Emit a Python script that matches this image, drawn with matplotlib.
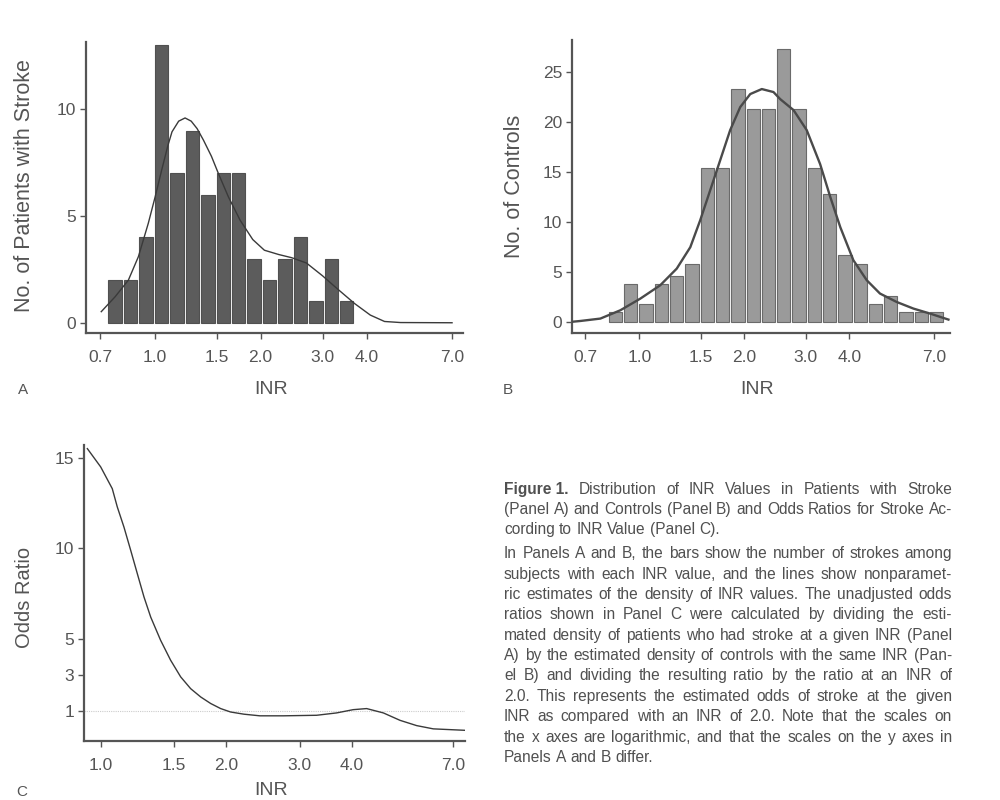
import numpy as np
import matplotlib
matplotlib.use("Agg")
import matplotlib.pyplot as plt
from matplotlib.ticker import NullLocator, FixedLocator, FixedFormatter

plt.rcParams['font.family'] = ['Liberation Sans', 'DejaVu Sans']

# bin edges on the INR axis (equal widths on the log scale)
bin_edges = [0.734, 0.812, 0.899, 0.994, 1.100, 1.217, 1.346, 1.489, 1.647,
             1.822, 2.016, 2.230, 2.467, 2.729, 3.019, 3.340, 3.695, 4.088,
             4.522, 5.003, 5.534, 6.123, 6.773, 7.493]

# Panel A: patients with stroke (bins 0..15)
stroke_counts = [2, 2, 4, 13, 7, 9, 6, 7, 7, 3, 2, 3, 4, 1, 3, 1]
stroke_curve_x = [0.705, 0.772, 0.842, 0.899, 0.959, 1.003, 1.047, 1.09, 1.12,
                  1.17, 1.22, 1.27, 1.32, 1.376, 1.45, 1.517, 1.62, 1.75, 1.90,
                  2.05, 2.25, 2.45, 2.70, 3.00, 3.30, 3.70, 4.10, 4.50, 5.00,
                  7.00]
stroke_curve_y = [0.52, 1.22, 2.0, 3.1, 4.66, 5.9, 7.16, 8.3, 8.95,
                  9.45, 9.6, 9.45, 9.1, 8.56, 7.8, 7.0, 5.9, 4.8, 3.9,
                  3.4, 3.2, 3.05, 2.8, 2.2, 1.6, 0.9, 0.36, 0.06, 0.01,
                  0.0]

# Panel B: controls (bins 1..22)
control_counts = [1, 3.8, 1.8, 3.8, 4.6, 5.8, 15.4, 15.4, 23.3, 21.3, 21.3,
                  27.3, 21.3, 15.4, 12.8, 6.7, 5.8, 1.8, 2.6, 1, 1, 1]
control_curve_x = [0.641, 0.677, 0.773, 0.882, 1.006, 1.148, 1.28, 1.40, 1.495,
                   1.597, 1.706, 1.822, 1.947, 2.08, 2.245, 2.425, 2.534, 2.768,
                   3.02, 3.30, 3.53, 3.77, 4.11, 4.49, 4.90, 5.47, 6.11, 6.82,
                   7.70]
control_curve_y = [0.05, 0.13, 0.37, 1.2, 2.36, 3.7, 5.36, 7.5, 10.2,
                   13.2, 16.2, 19.2, 21.5, 22.8, 23.3, 23.0, 22.3, 21.2,
                   19.2, 15.8, 12.5, 9.5, 6.2, 4.2, 2.87, 2.03, 1.37, 0.87,
                   0.27]

# Panel C: odds ratio
odds_x = [0.929, 1.00, 1.066, 1.096, 1.137, 1.180, 1.224, 1.27, 1.318, 1.392,
          1.471, 1.555, 1.643, 1.737, 1.835, 1.939, 2.049, 2.205, 2.408, 2.739,
          3.293, 3.677, 4.03, 4.34, 4.76, 5.22, 5.72, 6.27, 7.47]
odds_y = [15.5, 14.49, 13.29, 12.28, 11.17, 9.89, 8.6, 7.31, 6.2, 4.92,
          3.82, 2.9, 2.25, 1.79, 1.43, 1.15, 0.96, 0.84, 0.75, 0.75,
          0.78, 0.91, 1.09, 1.15, 0.91, 0.5, 0.21, 0.03, -0.05]

x_ticks_ab = [0.7, 1.0, 1.5, 2.0, 3.0, 4.0, 7.0]
x_ticks_c = [1.0, 1.5, 2.0, 3.0, 4.0, 7.0]

caption_p1 = [
    "Distribution of INR Values in Patients with Stroke",
    "(Panel A) and Controls (Panel B) and Odds Ratios for Stroke Ac-",
    "cording to INR Value (Panel C).",
]
caption_p2 = [
    "In Panels A and B, the bars show the number of strokes among",
    "subjects with each INR value, and the lines show nonparamet-",
    "ric estimates of the density of INR values. The unadjusted odds",
    "ratios shown in Panel C were calculated by dividing the esti-",
    "mated density of patients who had stroke at a given INR (Panel",
    "A) by the estimated density of controls with the same INR (Pan-",
    "el B) and dividing the resulting ratio by the ratio at an INR of",
    "2.0. This represents the estimated odds of stroke at the given",
    "INR as compared with an INR of 2.0. Note that the scales on",
    "the x axes are logarithmic, and that the scales on the y axes in",
    "Panels A and B differ.",
]

W, H = 1000, 800

fig = plt.figure(figsize=(10, 8), dpi=100)


def px_axes(left, top, right, bottom):
    return fig.add_axes([left / W, 1 - bottom / H, (right - left) / W, (bottom - top) / H])


def style(ax, xticks, yticks):
    ax.set_xscale("log")
    for s in ("top", "right"):
        ax.spines[s].set_visible(False)
    for s in ("left", "bottom"):
        ax.spines[s].set_color("#555555")
        ax.spines[s].set_linewidth(1.6)
    ax.xaxis.set_minor_locator(NullLocator())
    ax.xaxis.set_major_locator(FixedLocator(xticks))
    ax.xaxis.set_major_formatter(FixedFormatter(["%.1f" % t for t in xticks]))
    ax.set_yticks(yticks)
    ax.tick_params(direction="out", length=4, width=1, color="#555555",
                   labelcolor="#555555", labelsize=12.5, pad=3)
    ax.tick_params(axis="x", pad=8)


def draw_bars(ax, first_bin, counts, face, edge):
    lo = np.array(bin_edges[first_bin:first_bin + len(counts)])
    hi = np.array(bin_edges[first_bin + 1:first_bin + len(counts) + 1])
    shrink = np.sqrt(hi / lo) ** 0.13
    lefts = lo * shrink
    rights = hi / shrink
    ax.bar(lefts, counts, width=rights - lefts, align="edge",
           color=face, edgecolor=edge, linewidth=0.8, zorder=2)


# Panel A
axA = px_axes(86, 42, 463, 333)
draw_bars(axA, 0, stroke_counts, "#5c5c5c", "#505050")
axA.plot(stroke_curve_x, stroke_curve_y, color="#3a3a3a", lw=1.0, zorder=3)
axA.set_xlim(0.638, 7.52)
axA.set_ylim(-0.48, 13.16)
style(axA, x_ticks_ab, [0, 5, 10])

# Panel B
axB = px_axes(572, 40, 950, 333)
draw_bars(axB, 1, control_counts, "#9a9a9a", "#6a6a6a")
axB.plot(control_curve_x, control_curve_y, color="#4a4a4a", lw=1.7, zorder=3)
axB.set_xlim(0.641, 7.78)
axB.set_ylim(-1.07, 28.2)
style(axB, x_ticks_ab, [0, 5, 10, 15, 20, 25])

# Panel C
axC = px_axes(84, 445, 465, 741)
axC.axhline(1, color="#cccccc", lw=0.8, ls=(0, (1, 1)), zorder=1)
axC.plot(odds_x, odds_y, color="#3a3a3a", lw=1.0, zorder=3)
axC.set_xlim(0.912, 7.47)
axC.set_ylim(-0.64, 15.7)
style(axC, x_ticks_c, [1, 3, 5, 10, 15])


# axis titles and panel letters
def ftext(x, y, s, **kw):
    return fig.text(x / W, 1 - y / H, s, color="#555555", **kw)


ftext(25, 186, "No. of Patients with Stroke", rotation=90, fontsize=15.5, ha="center", va="center")
ftext(514, 186, "No. of Controls", rotation=90, fontsize=15.5, ha="center", va="center")
ftext(25, 597, "Odds Ratio", rotation=90, fontsize=14.5, ha="center", va="center")
ftext(271, 389, "INR", fontsize=14, ha="center", va="center")
ftext(757, 389, "INR", fontsize=14, ha="center", va="center")
ftext(271, 799, "INR", fontsize=14, ha="center", va="bottom")
ftext(23, 390, "A", fontsize=11, ha="center", va="center")
ftext(508, 390, "B", fontsize=11, ha="center", va="center")
ftext(22, 799, "C", fontsize=11, ha="center", va="bottom")

# justified caption
renderer = fig.canvas.get_renderer()
cap_left, cap_right = 504, 952
cap_size = 11.2
cap_color = "#505050"


def text_width(s, weight="normal"):
    t = fig.text(0, 0, s, fontsize=cap_size, fontweight=weight)
    w = t.get_window_extent(renderer).width
    t.remove()
    return w


def justified_line(y, line, lead=None, last=False):
    words = line.split(" ")
    items = []
    if lead:
        items.append((lead, "bold"))
    items += [(w, "normal") for w in words]
    widths = [text_width(w, wt) for w, wt in items]
    space = text_width("a a") - text_width("aa")
    if last or len(items) < 2:
        gap = space
    else:
        gap = (cap_right - cap_left - sum(widths)) / (len(items) - 1)
    x = cap_left
    base = y + 5
    for (w, wt), wd in zip(items, widths):
        fig.text(x / W, 1 - base / H, w, fontsize=cap_size, fontweight=wt,
                 color=cap_color, ha="left", va="baseline")
        x += wd + gap


p1_y = [489, 509, 529]
p2_y = [553, 574, 594, 614, 635, 655, 675, 696, 716, 737, 757]
for i, (y, line) in enumerate(zip(p1_y, caption_p1)):
    justified_line(y, line, lead="Figure 1." if i == 0 else None,
                   last=(i == len(caption_p1) - 1))
for i, (y, line) in enumerate(zip(p2_y, caption_p2)):
    justified_line(y, line, last=(i == len(caption_p2) - 1))

fig.savefig("out.png", dpi=100)
